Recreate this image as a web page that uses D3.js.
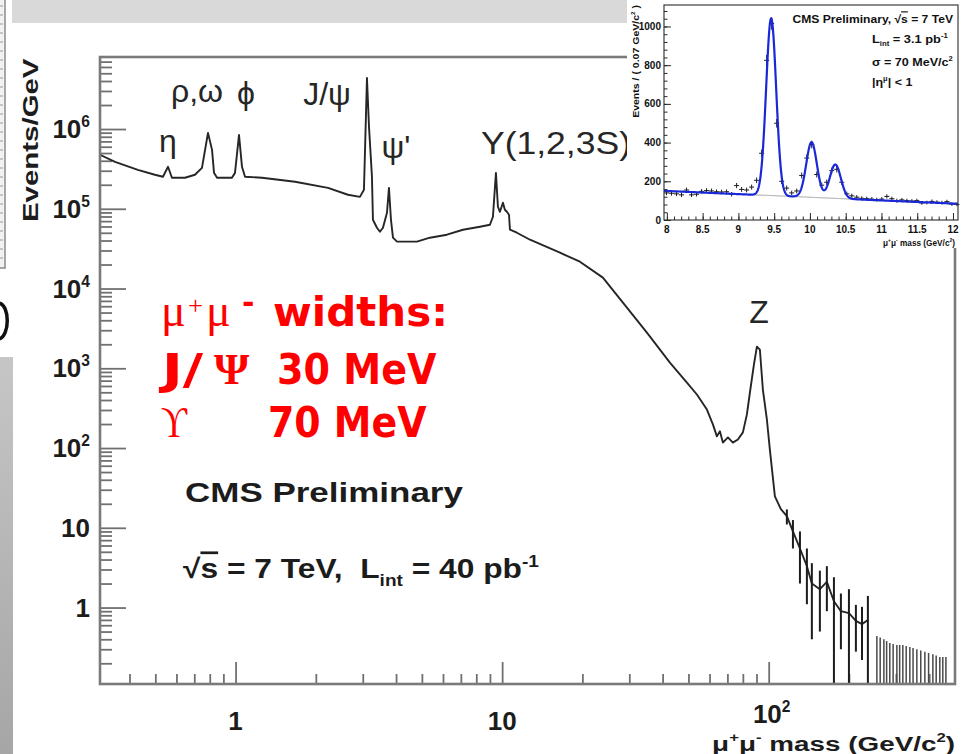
<!DOCTYPE html>
<html>
<head>
<meta charset="utf-8">
<title>Dimuon invariant mass spectrum</title>
<script src="https://cdnjs.cloudflare.com/ajax/libs/d3/7.8.5/d3.min.js"></script>
<style>
  html, body { margin: 0; padding: 0; background: #ffffff; }
  svg { display: block; font-family: "Liberation Sans", Arial, Helvetica, sans-serif; }
  text { white-space: pre; }
</style>
</head>
<body>
<svg id="chart" width="965" height="754"></svg>
<script>
// ---------- opposite-sign dimuon spectrum, Events/GeV ----------
const spectrumMass = [
  0.310, 0.353, 0.430, 0.498, 0.534, 0.558, 0.577, 0.646, 0.704, 0.748,
  0.788, 0.816, 0.830, 0.852, 0.969, 0.995, 1.030, 1.057, 1.085, 1.256,
  1.671, 2.222, 2.640, 2.928, 3.031, 3.111, 3.166, 3.248, 3.276, 3.391,
  3.480, 3.572, 3.698, 3.762, 3.828, 3.895, 4.032, 4.790, 5.360, 6.208,
  7.129, 8.257, 9.000, 9.236, 9.478, 9.643, 9.811, 10.07, 10.24, 10.42,
  10.61, 10.70, 11.36, 12.72, 16.48, 19.58, 23.88, 28.39, 34.93, 42.60,
  49.35, 53.79, 58.65, 61.76, 63.93, 65.61, 67.33, 70.31, 73.42, 76.65,
  80.03, 82.85, 85.03, 88.02, 90.32, 92.68, 95.10, 98.45, 101.0, 105.5,
  111.1
];
const spectrumEvents = [
  475000, 388000, 308000, 267000, 252000, 336000, 245000, 245000, 267000, 326000,
  895000, 548000, 282000, 245000, 245000, 282000, 845000, 336000, 252000, 245000,
  218000, 183000, 150000, 141000, 173000, 4370000, 1070000, 252000, 72800, 57800,
  51500, 57800, 89100, 183000, 72800, 43400, 38700, 38700, 43400, 47300,
  54600, 59600, 63100, 79400, 282000, 106000, 91700, 119000, 97200, 91700,
  84100, 54600, 50100, 40900, 28100, 21700, 13700, 6650, 2800, 1180,
  662, 469, 304, 198, 140, 162, 117, 136, 117, 128,
  157, 264, 497, 1110, 1870, 1710, 542, 228, 96, 24.8,
  17.1
];
// high-mass bins, drawn with their statistical error bars
const tailMass = [
  117.0, 123.3, 131.0, 139.1, 145.2, 155.6, 165.3, 175.7, 186.6, 200.0,
  212.4, 223.9, 235.6, 254.6, 262.0, 270.5, 277.0, 284.7, 293.0, 302.6,
  310.0, 318.6, 328.0, 338.5, 348.0, 359.6, 372.0, 385.4, 398.0, 413.0,
  425.0, 438.5, 450.0, 462.2
];
const tailEvents = [
  14.0, 9.0, 5.5, 3.3, 2.0, 1.7, 2.1, 1.2, 0.9, 0.85,
  0.68, 0.62, 0.70, 0.22, 0.21, 0.20, 0.19, 0.18, 0.175, 0.17,
  0.17, 0.17, 0.165, 0.16, 0.155, 0.15, 0.145, 0.14, 0.135, 0.13,
  0.125, 0.12, 0.12, 0.12
];
const tailError = [
  3.0, 3.5, 3.5, 2.2, 1.6, 1.2, 1.2, 1.2, 0.6, 0.85,
  0.4, 0.4, 0.70, 0.22, 0.21, 0.20, 0.19, 0.18, 0.175, 0.17,
  0.17, 0.17, 0.165, 0.16, 0.155, 0.15, 0.145, 0.14, 0.135, 0.13,
  0.125, 0.12, 0.12, 0.12
];
// resonances named above their peaks
const peakNames = ["η", "ρ,ω", "ϕ", "J/ψ", "ψ'", "Υ(1,2,3S)", "Z"];
// axis ticks
const xTickValues = [1, 10, 100];
const xTickLabels = ["1", "10", "10^{2}"];
const yTickValues = [1, 10, 1e2, 1e3, 1e4, 1e5, 1e6];
const yTickLabels = ["1", "10", "10^{2}", "10^{3}", "10^{4}", "10^{5}", "10^{6}"];

// ---------- Upsilon region, |eta| < 1, 3.1 pb^-1, 0.07 GeV bins ----------
const upsBinMass = [
  7.995, 8.065, 8.135, 8.205, 8.275, 8.345, 8.415, 8.485, 8.555, 8.625,
  8.695, 8.765, 8.835, 8.905, 8.975, 9.045, 9.115, 9.185, 9.255, 9.325,
  9.395, 9.465, 9.535, 9.605, 9.675, 9.745, 9.815, 9.885, 9.955, 10.025,
  10.095, 10.165, 10.235, 10.305, 10.375, 10.445, 10.515, 10.585, 10.655, 10.725,
  10.795, 10.865, 10.935, 11.005, 11.075, 11.145, 11.215, 11.285, 11.355, 11.425,
  11.495, 11.565, 11.635, 11.705, 11.775, 11.845, 11.915, 11.985, 12.055
];
const upsEvents = [
  140, 138, 135, 130, 155, 130, 133, 148, 152, 150,
  146, 145, 146, 133, 178, 158, 155, 170, 205, 345,
  825, 1015, 500, 200, 165, 140, 150, 230, 320, 390,
  235, 180, 195, 255, 262, 195, 135, 125, 118, 112,
  110, 108, 105, 108, 122, 110, 100, 104, 100, 98,
  100, 88, 90, 96, 92, 90, 95, 82, 80
];
// fit: three Gaussians on a linear background
const fitPeakMass = [9.458, 10.023, 10.355];
const fitPeakHeight = [916, 285, 175];
const fitPeakSigma = [0.070, 0.074, 0.077];
const fitBackgroundMass = [8, 12];
const fitBackgroundEvents = [150, 85];
const upsXTicks = [8, 8.5, 9, 9.5, 10, 10.5, 11, 11.5, 12];
const upsXLabels = ["8", "8.5", "9", "9.5", "10", "10.5", "11", "11.5", "12"];
const upsYTicks = [0, 200, 400, 600, 800, 1000];
const upsYLabels = ["0", "200", "400", "600", "800", "1000"];

// ---------- helpers ----------
const svg = d3.select("#chart");
const FONT = "'Liberation Sans', Arial, Helvetica, sans-serif";
const SERIF = "'Liberation Serif', 'DejaVu Serif', 'Times New Roman', serif";
const BOLDSANS = "'DejaVu Sans', Verdana, Tahoma, sans-serif";

// ^{..} superscript, _{..} subscript, ~{..} overlined
function rich(sel, str, size) {
  const re = /([\^_~])\{([^}]*)\}/g;
  const parts = [];
  let last = 0, m;
  while ((m = re.exec(str)) !== null) {
    if (m.index > last) parts.push({ t: str.slice(last, m.index), k: "" });
    parts.push({ t: m[2], k: m[1] });
    last = re.lastIndex;
  }
  if (last < str.length) parts.push({ t: str.slice(last), k: "" });
  let shift = 0;
  parts.forEach(p => {
    const off = p.k === "^" ? -0.42 * size : p.k === "_" ? 0.30 * size : 0;
    const small = p.k === "^" || p.k === "_";
    const ts = sel.append("tspan")
      .attr("dy", (off - shift).toFixed(2))
      .attr("font-size", small ? size * 0.6 : size)
      .text(p.t);
    if (p.k === "~") ts.style("text-decoration", "overline");
    shift = off;
  });
  return sel;
}

// text placed at (x, y); optionally squeezed/stretched horizontally to a width
function label(parent, str, o) {
  const g = parent.append("g").attr("transform", `translate(${o.x},${o.y})${o.rotate ? ` rotate(${o.rotate})` : ""}`);
  const t = g.append("text")
    .attr("text-anchor", o.anchor || "start")
    .attr("font-family", o.family || FONT)
    .attr("font-weight", o.weight || "normal")
    .attr("font-size", o.size)
    .attr("fill", o.fill || "#1c1c1c");
  rich(t, str, o.size);
  if (o.width) {
    const w = t.node().getBBox().width;
    if (w > 0) t.attr("transform", `scale(${(o.width / w).toFixed(4)},1)`);
  }
  return g;
}

// ---------- page surroundings ----------
svg.append("rect").attr("x", 12).attr("y", 0).attr("width", 620).attr("height", 23).attr("fill", "#d9d9d9");
const strip = svg.append("g");
strip.append("rect").attr("x", -2).attr("y", -2).attr("width", 7).attr("height", 270)
  .attr("fill", "#f2f2f2").attr("stroke", "#8a8a8a").attr("stroke-width", 1.5);
strip.selectAll("line.s").data(d3.range(6, 262, 9)).join("line")
  .attr("x1", 0).attr("x2", 3).attr("y1", d => d).attr("y2", d => d)
  .attr("stroke", "#9a9a9a").attr("stroke-width", 1);
strip.append("path").attr("d", "M-1,303 C10,305 10,336 -1,339")
  .attr("fill", "none").attr("stroke", "#111").attr("stroke-width", 3.5);
const grad = svg.append("defs").append("linearGradient").attr("id", "sidebar")
  .attr("x1", 0).attr("x2", 0).attr("y1", 0).attr("y2", 1);
grad.append("stop").attr("offset", 0).attr("stop-color", "#c6c6c6");
grad.append("stop").attr("offset", 1).attr("stop-color", "#a6a6a6");
strip.append("rect").attr("x", 0).attr("y", 357).attr("width", 13).attr("height", 397).attr("fill", "url(#sidebar)");

// ---------- main frame ----------
const M = { left: 100, right: 955, top: 57, bottom: 684 };
const x = d3.scaleLog().domain([0.31, 500]).range([M.left, M.right]);
const y = d3.scaleLog().domain([0.11, 8e6]).range([M.bottom, M.top]);
const AXC = "#707070";

svg.append("defs").append("clipPath").attr("id", "plotclip")
  .append("rect").attr("x", M.left).attr("y", M.top).attr("width", M.right - M.left).attr("height", M.bottom - M.top);

function logMinors(lo, hi) {
  const out = [];
  for (let e = Math.floor(Math.log10(lo)); e <= Math.ceil(Math.log10(hi)); e++)
    for (let k = 2; k <= 9; k++) { const v = k * Math.pow(10, e); if (v > lo && v < hi) out.push(v); }
  return out;
}

const axes = svg.append("g");
function styleAxis(g) {
  g.select(".domain").remove();
  g.selectAll(".tick line").attr("stroke", AXC).attr("stroke-width", 1.8);
}
axes.append("g").attr("transform", `translate(0,${M.bottom})`)
  .call(d3.axisBottom(x).tickValues(logMinors(0.31, 500)).tickSize(-10).tickSizeOuter(0).tickFormat(() => ""))
  .call(styleAxis);
axes.append("g").attr("transform", `translate(0,${M.bottom})`)
  .call(d3.axisBottom(x).tickValues(xTickValues).tickSize(-22).tickSizeOuter(0).tickFormat(() => ""))
  .call(styleAxis);
axes.append("g").attr("transform", `translate(${M.left},0)`)
  .call(d3.axisLeft(y).tickValues(logMinors(0.11, 8e6)).tickSize(-12).tickSizeOuter(0).tickFormat(() => ""))
  .call(styleAxis);
axes.append("g").attr("transform", `translate(${M.left},0)`)
  .call(d3.axisLeft(y).tickValues(yTickValues).tickSize(-26).tickSizeOuter(0).tickFormat(() => ""))
  .call(styleAxis);

// spectrum
const plot = svg.append("g").attr("clip-path", "url(#plotclip)");
const spectrum = spectrumMass.map((m, i) => ({ m, v: spectrumEvents[i] }));
const tail = tailMass.map((m, i) => ({ m, v: tailEvents[i], e: tailError[i] }));
const line = d3.line().x(d => x(d.m)).y(d => y(d.v));
plot.append("path").datum(spectrum.concat(tail.filter(d => d.m < 240)))
  .attr("d", line).attr("fill", "none").attr("stroke", "#262626")
  .attr("stroke-width", 1.9).attr("stroke-linejoin", "round");
const yFloor = y.domain()[0] * 0.9;
plot.selectAll("line.err").data(tail).join("line")
  .attr("x1", d => x(d.m)).attr("x2", d => x(d.m))
  .attr("y1", d => y(d.v + d.e))
  .attr("y2", d => y(Math.max(d.v - d.e, yFloor)))
  .attr("stroke", d => d.m < 240 ? "#1c1c1c" : "#4a4a4a")
  .attr("stroke-width", d => d.m < 240 ? 2 : 1.5);

svg.append("rect").attr("x", M.left).attr("y", M.top)
  .attr("width", M.right - M.left).attr("height", M.bottom - M.top)
  .attr("fill", "none").attr("stroke", "#7a7a7a").attr("stroke-width", 2.6);

// tick labels
yTickValues.forEach((v, i) => label(svg, yTickLabels[i], { x: 90, y: y(v) + 9, anchor: "end", size: 26, weight: "bold" }));
xTickValues.forEach((v, i) => label(svg, xTickLabels[i], { x: x(v) + (i === 2 ? 3 : 0), y: i === 2 ? 723 : 730, anchor: "middle", size: 26, weight: "bold" }));

// axis titles
label(svg, "Events/GeV", { x: 38, y: 222, rotate: -90, size: 22, weight: "bold", width: 164 });
label(svg, "μ^{+}μ^{-} mass (GeV/c^{2})", { x: 955, y: 751, anchor: "end", size: 21, weight: "bold", width: 243 });

// resonance names
const peakLayout = [
  { x: 168, y: 152 }, { x: 197, y: 102 }, { x: 246, y: 104 }, { x: 327, y: 105 },
  { x: 396, y: 158 }, { x: 481, y: 154, anchor: "start", width: 150 }, { x: 759, y: 323 }
];
peakNames.forEach((n, i) => {
  const p = peakLayout[i];
  label(svg, n, { x: p.x, y: p.y, anchor: p.anchor || "middle", size: 32, fill: "#262626", width: p.width });
});

// experiment captions
label(svg, "CMS Preliminary", { x: 185, y: 502, size: 27, weight: "bold", width: 278 });
label(svg, "√~{s} = 7 TeV,  L_{int} = 40 pb^{-1}", { x: 183, y: 578, size: 27, weight: "bold", width: 356 });

// resolution note
const RED = "#ff0000";
label(svg, "μ", { x: 161, y: 326, size: 46, family: SERIF, fill: RED });
label(svg, "+", { x: 188, y: 314, size: 26, family: SERIF, fill: RED, width: 15 });
label(svg, "μ", { x: 206, y: 326, size: 46, family: SERIF, fill: RED });
label(svg, "-", { x: 242, y: 313, size: 30, weight: "bold", family: BOLDSANS, fill: RED });
label(svg, "widths:", { x: 273, y: 326, size: 40, weight: "bold", family: BOLDSANS, fill: RED, width: 175 });
label(svg, "J/", { x: 162, y: 384, size: 42, weight: "bold", family: BOLDSANS, fill: RED, width: 46 });
label(svg, "Ψ", { x: 214, y: 384, size: 44, weight: "bold", family: SERIF, fill: RED, width: 36 });
label(svg, "30 MeV", { x: 277, y: 384, size: 42, weight: "bold", family: BOLDSANS, fill: RED, width: 160 });
label(svg, "ϒ", { x: 161, y: 437, size: 44, family: SERIF, fill: RED, width: 27 });
label(svg, "70 MeV", { x: 268, y: 437, size: 42, weight: "bold", family: BOLDSANS, fill: RED, width: 159 });

// ---------- Upsilon inset ----------
const inset = svg.append("g");
inset.append("rect").attr("x", 627).attr("y", 0).attr("width", 338).attr("height", 248).attr("fill", "#ffffff");
const I = { left: 664, right: 958, top: 5, bottom: 220 };
const ix = d3.scaleLinear().domain([7.96, 12.07]).range([I.left, I.right]);
const iy = d3.scaleLinear().domain([0, 1111]).range([I.bottom, I.top]);
const ICOL = "#2a2a2a";
function styleInset(g) {
  g.select(".domain").remove();
  g.selectAll(".tick line").attr("stroke", ICOL).attr("stroke-width", 1);
}
inset.append("g").attr("transform", `translate(0,${I.bottom})`)
  .call(d3.axisBottom(ix).tickValues(d3.range(8, 12.05, 0.1)).tickSize(-3.5).tickSizeOuter(0).tickFormat(() => ""))
  .call(styleInset);
inset.append("g").attr("transform", `translate(0,${I.bottom})`)
  .call(d3.axisBottom(ix).tickValues(upsXTicks).tickSize(-7).tickSizeOuter(0).tickFormat(() => ""))
  .call(styleInset);
inset.append("g").attr("transform", `translate(${I.left},0)`)
  .call(d3.axisLeft(iy).tickValues(d3.range(0, 1100, 40)).tickSize(-3.5).tickSizeOuter(0).tickFormat(() => ""))
  .call(styleInset);
inset.append("g").attr("transform", `translate(${I.left},0)`)
  .call(d3.axisLeft(iy).tickValues(upsYTicks).tickSize(-7).tickSizeOuter(0).tickFormat(() => ""))
  .call(styleInset);

const bgSlope = (fitBackgroundEvents[1] - fitBackgroundEvents[0]) / (fitBackgroundMass[1] - fitBackgroundMass[0]);
const background = m => fitBackgroundEvents[0] + bgSlope * (m - fitBackgroundMass[0]);
const model = m => background(m) + fitPeakMass.reduce((s, mu, k) =>
  s + fitPeakHeight[k] * Math.exp(-0.5 * Math.pow((m - mu) / fitPeakSigma[k], 2)), 0);
const grid = d3.range(ix.domain()[0], ix.domain()[1], 0.004);

inset.append("path").datum(grid)
  .attr("d", d3.line().x(m => ix(m)).y(m => iy(background(m))))
  .attr("fill", "none").attr("stroke", "#9a9a9a").attr("stroke-width", 1);

const ups = upsBinMass.map((m, i) => ({ m, v: upsEvents[i] }));
const marks = inset.append("g").attr("stroke", "#1e1e1e").attr("stroke-width", 1);
marks.selectAll("line.h").data(ups).join("line")
  .attr("x1", d => ix(d.m - 0.035)).attr("x2", d => ix(d.m + 0.035))
  .attr("y1", d => iy(d.v)).attr("y2", d => iy(d.v));
marks.selectAll("line.v").data(ups).join("line")
  .attr("x1", d => ix(d.m)).attr("x2", d => ix(d.m))
  .attr("y1", d => iy(d.v + Math.sqrt(d.v))).attr("y2", d => iy(d.v - Math.sqrt(d.v)));

inset.append("path").datum(grid)
  .attr("d", d3.line().x(m => ix(m)).y(m => iy(model(m))))
  .attr("fill", "none").attr("stroke", "#1a28d8").attr("stroke-width", 2.2).attr("stroke-linejoin", "round");

inset.append("rect").attr("x", I.left).attr("y", I.top).attr("width", I.right - I.left).attr("height", I.bottom - I.top)
  .attr("fill", "none").attr("stroke", ICOL).attr("stroke-width", 1.1);

upsYTicks.forEach((v, i) => label(inset, upsYLabels[i], { x: 661, y: iy(v) + 3.5, anchor: "end", size: 10, weight: "bold", fill: "#111" }));
upsXTicks.forEach((v, i) => label(inset, upsXLabels[i], { x: ix(v), y: 233, anchor: "middle", size: 10, weight: "bold", fill: "#111" }));
label(inset, "Events / ( 0.07 GeV/c^{2} )", { x: 639, y: 5, rotate: -90, anchor: "end", size: 9.5, weight: "bold", fill: "#111", width: 113 });
label(inset, "μ^{+}μ^{-} mass (GeV/c^{2})", { x: 955, y: 246, anchor: "end", size: 9, weight: "bold", fill: "#111", width: 72 });
label(inset, "CMS Preliminary, √~{s} = 7 TeV", { x: 953, y: 23, anchor: "end", size: 11.5, weight: "bold", fill: "#111", width: 161 });
label(inset, "L_{int} = 3.1 pb^{-1}", { x: 872, y: 43, size: 11.5, weight: "bold", fill: "#111", width: 76 });
label(inset, "σ = 70 MeV/c^{2}", { x: 872, y: 66, size: 11.5, weight: "bold", fill: "#111", width: 81 });
label(inset, "|η^{μ}| < 1", { x: 872, y: 86, size: 11.5, weight: "bold", fill: "#111", width: 41 });
</script>
</body>
</html>
